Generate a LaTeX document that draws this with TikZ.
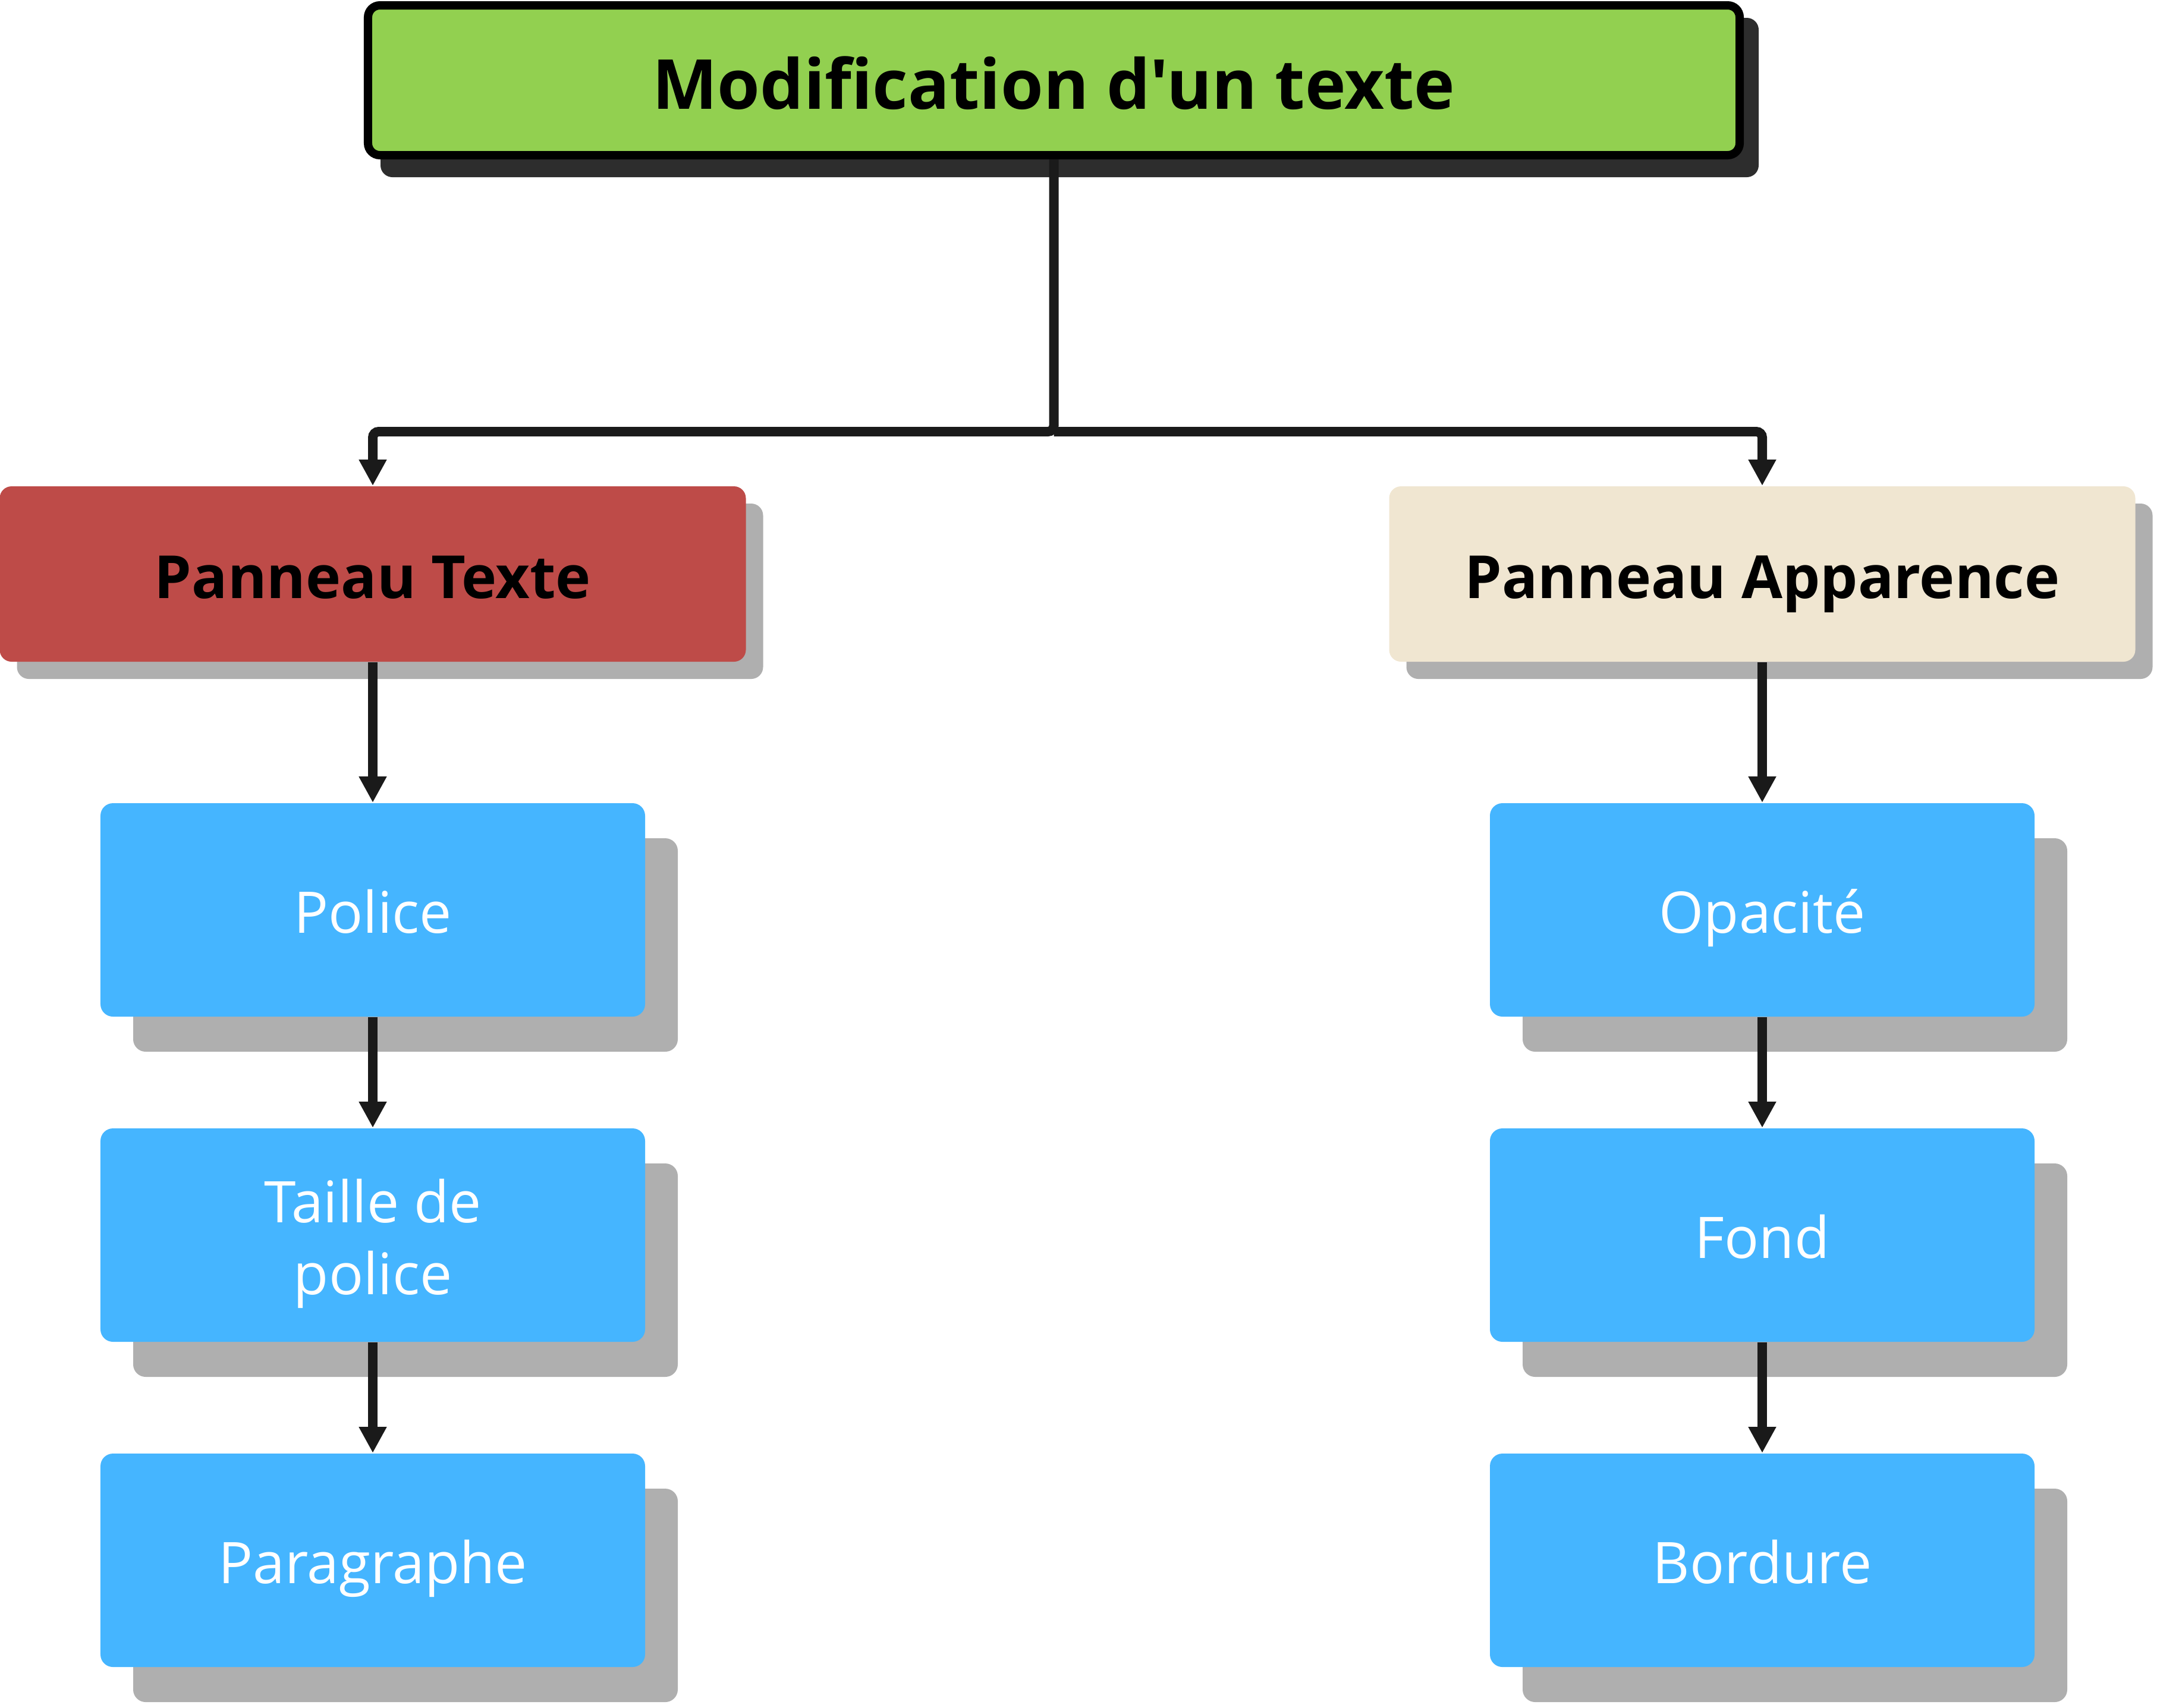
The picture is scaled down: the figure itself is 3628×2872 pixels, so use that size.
\documentclass[tikz,border=0pt]{standalone}
\usepackage{fontspec}
\setmainfont{Open Sans}[Ligatures=TeXOff]
\usetikzlibrary{arrows.meta,calc}
\definecolor{topgreen}{HTML}{92D050}
\definecolor{topshadow}{HTML}{2D2D2D}
\definecolor{panelred}{HTML}{BE4B48}
\definecolor{panelbeige}{HTML}{F0E6D1}
\definecolor{itemblue}{HTML}{45B5FF}
\definecolor{shadowgray}{HTML}{AFAFAF}
\definecolor{connector}{HTML}{1A1A1A}
\tikzset{
  titlebox/.style={draw=black, line width=2.8pt, fill=topgreen, rounded corners=4pt,
    minimum width=461.4pt, minimum height=50.4pt, inner sep=0pt,
    text height=19.2pt, text depth=0pt,
    font=\fontsize{23.2}{28}\selectfont\bfseries, text=black},
  panelbox/.style={rounded corners=4pt, minimum width=251pt, minimum height=59pt,
    inner sep=0pt, text height=16.2pt, text depth=0pt,
    font=\fontsize{20}{24}\selectfont\bfseries, text=black},
  itembox/.style={fill=itemblue, rounded corners=4.2pt, minimum width=183.2pt,
    minimum height=71.8pt, inner sep=0pt, align=center,
    text height=15.4pt, text depth=0pt,
    font=\fontsize{19.3}{24.2}\selectfont, text=white},
  conn/.style={draw=connector, line width=3.2pt},
  arr/.style={conn, -{Triangle[length=8.8pt,width=8.8pt]}},
}
\begin{document}
\begin{tikzpicture}[x=0.2pt,y=-0.2pt]
\useasboundingbox (0,0) rectangle (3628,2872);
% shadows
\fill[topshadow, rounded corners=4pt] (640,30) rectangle (2958,298);
\foreach \cx in {627,2964}{
  \fill[shadowgray, rounded corners=4pt] (\cx-627.5+29,847) rectangle (\cx+627.5+29,1142);
  \foreach \cy in {1530.5,2077.5,2624.5}{
    \fill[shadowgray, rounded corners=4.2pt] (\cx-458+55,\cy-179.5+59) rectangle (\cx+458+55,\cy+179.5+59);
  }
}
% nodes
\node[titlebox] (top) at (1772.5,135) {Modification d'un texte};
\node[panelbox, fill=panelred] (pt) at (627,965.5) {Panneau Texte};
\node[panelbox, fill=panelbeige] (pa) at (2964,965.5) {Panneau Apparence};
\node[itembox] (police) at (627,1530.5) {Police};
\node[itembox, text height=39.8pt] (taille) at (627,2077.5) {Taille de\\police};
\node[itembox] (para) at (627,2624.5) {Paragraphe};
\node[itembox] (opac) at (2964,1530.5) {Opacité};
\node[itembox] (fond) at (2964,2077.5) {Fond};
\node[itembox] (bord) at (2964,2624.5) {Bordure};
% connectors
\coordinate (split) at (1772.5,726);
\draw[arr, rounded corners=2pt] (top.south) -- (split) -| (pt.north);
\draw[arr, rounded corners=2pt] (split) -| (pa.north);
\draw[arr] (pt.south) -- (police.north);
\draw[arr] (police.south) -- (taille.north);
\draw[arr] (taille.south) -- (para.north);
\draw[arr] (pa.south) -- (opac.north);
\draw[arr] (opac.south) -- (fond.north);
\draw[arr] (fond.south) -- (bord.north);
\end{tikzpicture}
\end{document}
